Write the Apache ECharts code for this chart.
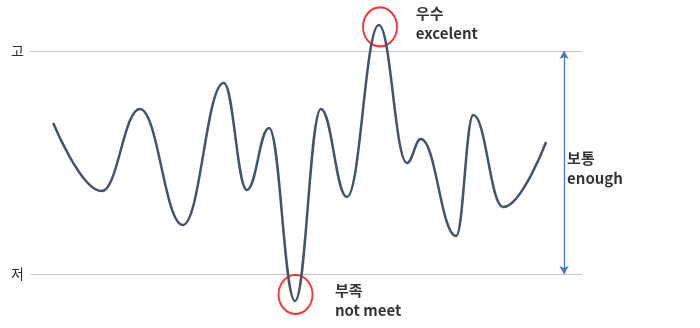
<!DOCTYPE html>
<html>
<head>
<meta charset="utf-8">
<script src="https://cdn.jsdelivr.net/npm/echarts@6/dist/echarts.min.js"></script>
<style>html,body{margin:0;padding:0;background:#fff;}#c{width:700px;height:328px;}</style>
</head>
<body>
<div id="c"></div>
<script>
// Curve extrema (x in 0..100 along the axis, y: 0 = 저, 100 = 고)
const curveX = [4.2, 13.0, 19.9, 27.7, 35.1, 39.3, 43.3, 48.0, 52.7, 57.4, 63.2, 68.3, 70.8, 77.2, 80.3, 85.7, 93.5];
const curveY = [67.7, 37.2, 74.0, 22.0, 85.7, 37.7, 65.5, -12.1, 74.0, 34.5, 111.7, 49.8, 60.5, 17.0, 71.3, 30.0, 59.2];
// Level tick labels
const levelValues = [0, 100];
const levelLabels = ['저', '고'];
// Highlight circles (peak, trough)
const circleX = [63.4, 48.1];
const circleY = [110.8, -9.2];
// Annotation texts and their anchors
const noteTexts = [['우수', 'excelent'], ['부족', 'not meet'], ['보통', 'enough']];
const noteX = [69.9, 55.25, 97.3];
const noteY = [112.6, -11.7, 47.5];
// Range arrow position
const arrowX = 96.75;

const FONT = '"Noto Sans CJK KR", "Noto Sans", sans-serif';
const chart = echarts.init(document.getElementById('c'), null, {renderer: 'canvas'});
chart.setOption({
  animation: false,
  grid: {left: 30, right: 118, top: 51, bottom: 54},
  xAxis: {type: 'value', min: 0, max: 100, show: false},
  yAxis: {
    type: 'value', min: 0, max: 100, interval: 100,
    axisLine: {show: false}, axisTick: {show: false},
    splitLine: {lineStyle: {color: '#C8C8C8', width: 1}},
    axisLabel: {
      margin: 6, color: '#303030', fontSize: 14, fontFamily: FONT,
      formatter: v => levelLabels[levelValues.indexOf(v)] || ''
    }
  },
  series: [
    {
      type: 'line', clip: false, smooth: 0.42, smoothMonotone: 'x',
      showSymbol: false, symbol: 'none',
      lineStyle: {color: '#44546A', width: 2.5},
      data: curveX.map((x, i) => [x, curveY[i]]),
      markLine: {
        silent: true, symbol: ['arrow', 'arrow'], symbolSize: [7, 8],
        label: {show: false},
        lineStyle: {color: '#4472C4', width: 1.3, type: 'solid'},
        data: [[{coord: [arrowX, 0]}, {coord: [arrowX, 100]}]]
      }
    },
    {
      type: 'scatter', clip: false, symbol: 'circle', symbolSize: [34, 39],
      itemStyle: {color: 'rgba(0,0,0,0)', borderColor: '#FF0000', borderWidth: 2},
      data: circleX.map((x, i) => [x, circleY[i]])
    },
    {
      type: 'scatter', clip: false, symbolSize: 0,
      label: {
        show: true, position: 'inside', align: 'left', verticalAlign: 'middle',
        formatter: p => '{a|' + noteTexts[p.dataIndex][0] + '}\n{b|' + noteTexts[p.dataIndex][1] + '}',
        rich: {
          a: {fontSize: 15, fontWeight: 'bold', color: '#000', fontFamily: FONT, lineHeight: 20},
          b: {fontSize: 15, fontWeight: 'bold', color: '#000', fontFamily: FONT, lineHeight: 19}
        }
      },
      data: noteX.map((x, i) => [x, noteY[i]])
    }
  ]
});
</script>
</body>
</html>
